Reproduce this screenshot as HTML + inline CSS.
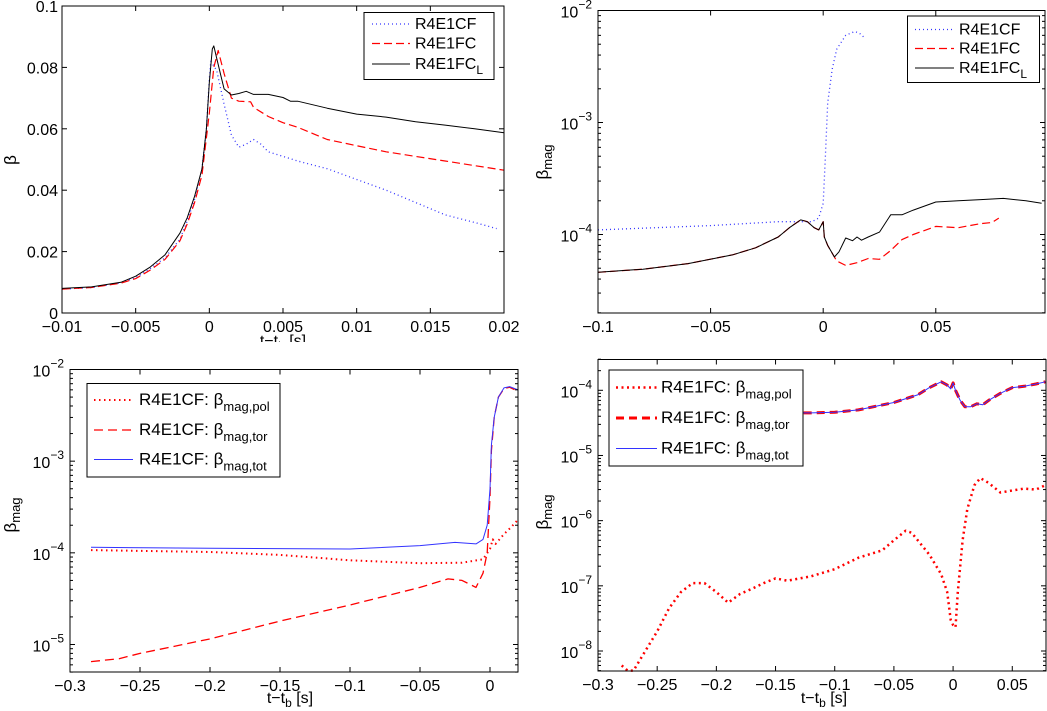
<!DOCTYPE html>
<html><head><meta charset="utf-8"><style>
html,body{margin:0;padding:0;background:#fff}
svg{display:block;font-family:"Liberation Sans",sans-serif}
</style></head><body>
<svg id="fig" width="1047" height="711" viewBox="0 0 1047 711" xmlns="http://www.w3.org/2000/svg"></svg>
<script>
// ---- Panel A (beta, linear) ----
const aX_CF=[-0.01,-0.008,-0.006,-0.005,-0.004,-0.003,-0.002,-0.0015,-0.001,-0.0005,-0.0002,0,0.0001,0.0005,0.001,0.0015,0.002,0.0025,0.003,0.0035,0.004,0.005,0.006,0.008,0.01,0.012,0.014,0.016,0.018,0.0195];
const aY_CF=[0.0078,0.0083,0.0098,0.0115,0.0145,0.018,0.024,0.03,0.037,0.047,0.06,0.076,0.082,0.079,0.068,0.058,0.054,0.055,0.0565,0.055,0.0525,0.051,0.0495,0.047,0.0435,0.040,0.036,0.032,0.0295,0.0275];
const aX_FC=[-0.01,-0.008,-0.006,-0.005,-0.004,-0.003,-0.002,-0.0015,-0.001,-0.0005,0,0.0003,0.0006,0.001,0.0015,0.002,0.0028,0.003,0.004,0.005,0.006,0.007,0.008,0.01,0.012,0.014,0.016,0.018,0.02];
const aY_FC=[0.0078,0.0083,0.0097,0.0112,0.014,0.0175,0.0235,0.029,0.036,0.045,0.065,0.08,0.0855,0.078,0.070,0.069,0.0688,0.067,0.064,0.062,0.0605,0.0585,0.0565,0.0545,0.0525,0.051,0.0495,0.048,0.0465];
const aX_FCL=[-0.01,-0.008,-0.006,-0.005,-0.004,-0.003,-0.002,-0.0015,-0.001,-0.0005,-0.0002,0,0.0002,0.0003,0.0005,0.0008,0.001,0.0015,0.002,0.0025,0.003,0.004,0.005,0.0055,0.006,0.008,0.01,0.012,0.014,0.016,0.018,0.02];
const aY_FCL=[0.008,0.0085,0.010,0.012,0.015,0.019,0.026,0.031,0.038,0.047,0.060,0.075,0.086,0.087,0.083,0.077,0.073,0.071,0.0715,0.0722,0.0712,0.0712,0.0702,0.069,0.069,0.0667,0.0648,0.0638,0.0623,0.0612,0.060,0.0587];
const aXTicks=[-0.01,-0.005,0,0.005,0.01,0.015,0.02];
const aXTickLabels=["\u22120.01","\u22120.005","0","0.005","0.01","0.015","0.02"];
const aYTicks=[0,0.02,0.04,0.06,0.08,0.1];
const aYTickLabels=["0","0.02","0.04","0.06","0.08","0.1"];
// ---- Panel B (beta_mag, log) ----
const bX_CF=[-0.1,-0.05,-0.02,-0.01,-0.005,-0.002,0,0.001,0.002,0.004,0.006,0.01,0.014,0.016,0.018];
const bY_CF=[1.1e-4,1.2e-4,1.3e-4,1.3e-4,1.3e-4,1.4e-4,1.9e-4,5e-4,1.5e-3,3e-3,4.5e-3,6e-3,6.5e-3,6.3e-3,5.8e-3];
const bX_FC=[-0.1,-0.08,-0.06,-0.04,-0.03,-0.02,-0.015,-0.01,-0.007,-0.004,-0.002,0,0.0005,0.002,0.005,0.006,0.01,0.015,0.02,0.025,0.03,0.035,0.04,0.05,0.06,0.065,0.07,0.075,0.078];
const bY_FC=[4.6e-5,4.9e-5,5.5e-5,6.6e-5,7.6e-5,9.5e-5,1.15e-4,1.35e-4,1.3e-4,1.15e-4,1.1e-4,1.3e-4,9.5e-5,8e-5,6.3e-5,5.8e-5,5.3e-5,5.6e-5,6.1e-5,6e-5,7.2e-5,9e-5,1.0e-4,1.18e-4,1.15e-4,1.2e-4,1.25e-4,1.28e-4,1.4e-4];
const bX_FCL=[-0.1,-0.08,-0.06,-0.04,-0.03,-0.02,-0.015,-0.01,-0.007,-0.004,-0.002,0,0.0005,0.002,0.005,0.007,0.01,0.013,0.015,0.017,0.02,0.025,0.03,0.035,0.04,0.05,0.06,0.07,0.08,0.09,0.097];
const bY_FCL=[4.6e-5,4.9e-5,5.5e-5,6.6e-5,7.6e-5,9.5e-5,1.15e-4,1.35e-4,1.3e-4,1.15e-4,1.1e-4,1.3e-4,9.5e-5,8e-5,6.3e-5,7e-5,9.3e-5,8.8e-5,9.5e-5,8.9e-5,9.5e-5,1.05e-4,1.5e-4,1.5e-4,1.65e-4,1.95e-4,2.0e-4,2.05e-4,2.1e-4,2.0e-4,1.9e-4];
const bXTicks=[-0.1,-0.05,0,0.05];
const bXTickLabels=["\u22120.1","\u22120.05","0","0.05"];
const bYExps=[-2,-3,-4];
// ---- Panel C ----
const cX_tot=[-0.285,-0.2,-0.1,-0.05,-0.025,-0.01,-0.005,-0.002,0,0.001,0.003,0.006,0.01,0.014,0.02];
const cY_tot=[1.15e-4,1.12e-4,1.1e-4,1.2e-4,1.3e-4,1.25e-4,1.4e-4,2e-4,5e-4,1.5e-3,3e-3,5e-3,6.3e-3,6.5e-3,6e-3];
const cX_tor=[-0.285,-0.265,-0.25,-0.2,-0.15,-0.1,-0.05,-0.03,-0.02,-0.01,-0.005,-0.002,0,0.001,0.003,0.006,0.01,0.014,0.02];
const cY_tor=[6.5e-6,7e-6,8e-6,1.15e-5,1.8e-5,2.7e-5,4.2e-5,5.2e-5,5e-5,4.2e-5,6e-5,1e-4,4e-4,1.3e-3,3e-3,5e-3,6.2e-3,6.4e-3,5.8e-3];
const cX_pol=[-0.285,-0.2,-0.15,-0.1,-0.05,-0.02,-0.005,0,0.002,0.004,0.01,0.015,0.02];
const cY_pol=[1.07e-4,1.02e-4,9.5e-5,8.3e-5,7.7e-5,7.8e-5,8.5e-5,1.1e-4,1.4e-4,1.25e-4,1.6e-4,1.9e-4,2.3e-4];
const cXTicks=[-0.3,-0.25,-0.2,-0.15,-0.1,-0.05,0];
const cXTickLabels=["\u22120.3","\u22120.25","\u22120.2","\u22120.15","\u22120.1","\u22120.05","0"];
const cYExps=[-2,-3,-4,-5];
// ---- Panel D ----
const dX_pol=[-0.28,-0.275,-0.27,-0.26,-0.25,-0.24,-0.23,-0.22,-0.21,-0.2,-0.19,-0.18,-0.17,-0.16,-0.15,-0.14,-0.12,-0.1,-0.08,-0.06,-0.05,-0.04,-0.035,-0.02,-0.01,-0.005,-0.002,0,0.002,0.004,0.008,0.012,0.018,0.023,0.03,0.04,0.05,0.06,0.07,0.078];
const dY_pol=[6e-9,5e-9,5e-9,1e-8,2e-8,4.5e-8,8e-8,1.1e-7,1.1e-7,8e-8,5.5e-8,7.5e-8,9e-8,1.1e-7,1.3e-7,1.2e-7,1.4e-7,1.8e-7,2.7e-7,3.5e-7,5e-7,7e-7,6.5e-7,3e-7,1.5e-7,8e-8,3e-8,2.5e-8,2.3e-8,8e-8,5e-7,1.5e-6,3.5e-6,4.5e-6,3.8e-6,2.7e-6,2.9e-6,3.1e-6,3.0e-6,3.5e-6];
const dX_tot=[-0.28,-0.12,-0.1,-0.08,-0.05,-0.03,-0.02,-0.01,-0.005,-0.002,0,0.002,0.006,0.01,0.015,0.02,0.025,0.03,0.04,0.05,0.06,0.07,0.078];
const dY_tot=[4.5e-5,4.5e-5,4.6e-5,5e-5,6.5e-5,8.5e-5,1.1e-4,1.35e-4,1.2e-4,1.05e-4,1.3e-4,1e-4,7e-5,5.6e-5,5.6e-5,6.2e-5,6e-5,7e-5,9e-5,1.1e-4,1.15e-4,1.25e-4,1.35e-4];
const dXTicks=[-0.3,-0.25,-0.2,-0.15,-0.1,-0.05,0,0.05];
const dXTickLabels=["\u22120.3","\u22120.25","\u22120.2","\u22120.15","\u22120.1","\u22120.05","0","0.05"];
const dYExps=[-4,-5,-6,-7,-8];

const NS="http://www.w3.org/2000/svg";
const fig=document.getElementById('fig');
function mk(tag,attrs,parent){const e=document.createElementNS(NS,tag);for(const k in attrs)e.setAttribute(k,attrs[k]);(parent||fig).appendChild(e);return e;}
function lin(d0,d1,p0,p1){return v=>p0+(v-d0)/(d1-d0)*(p1-p0);}
function logs(e0,e1,p0,p1){return v=>p0+(Math.log10(v)-e0)/(e1-e0)*(p1-p0);}
function pathD(xs,ys,sx,sy){return xs.map((x,i)=>(i?'L':'M')+sx(x).toFixed(1)+' '+sy(ys[i]).toFixed(1)).join(' ');}
function frame(g,L,T,R,B){
  const r=mk('rect',{x:L,y:T,width:R-L,height:B-T,fill:'none',stroke:'#000','stroke-width':1},g);
  
  
}
function xticks(g,ticks,labels,sx,T,B){
  ticks.forEach((t,i)=>{const x=sx(t);
    mk('line',{x1:x,x2:x,y1:B,y2:B-5,stroke:'#000'},g);mk('line',{x1:x,x2:x,y1:T,y2:T+5,stroke:'#000'},g);
    const tx=mk('text',{x:x,y:B+19,'font-size':16,'text-anchor':'middle'},g);tx.textContent=labels[i];
    
    });
}
function yticksLin(g,ticks,labels,sy,L,R){
  ticks.forEach((t,i)=>{const y=sy(t);
    mk('line',{x1:L,x2:L+5,y1:y,y2:y,stroke:'#000'},g);mk('line',{x1:R,x2:R-5,y1:y,y2:y,stroke:'#000'},g);
    const tx=mk('text',{x:L-4,y:y+6,'font-size':16,'text-anchor':'end'},g);tx.textContent=labels[i];
    
    });
}
function yticksLog(g,exps,sy,L,R,T,B){
  const emin=Math.min(...exps)-1,emax=Math.max(...exps)+1;
  for(let e=emin;e<=emax;e++){for(let m=1;m<10;m++){const v=m*Math.pow(10,e);const y=sy(v);if(y<T-0.5||y>B+0.5)continue;
    const len=m===1?5:3;mk('line',{x1:L,x2:L+len,y1:y,y2:y,stroke:'#000'},g);mk('line',{x1:R,x2:R-len,y1:y,y2:y,stroke:'#000'},g);}}
  exps.forEach(e=>{const y=sy(Math.pow(10,e));
    const tx=mk('text',{x:L-6,y:y+7,'font-size':16,'text-anchor':'end'},g);
    
    
    tx.innerHTML='10<tspan dy="-9" font-size="12">\u2212'+Math.abs(e)+'</tspan>';});
}
function series(g,xs,ys,sx,sy,color,dash,w,name){
  const p=mk('path',{d:pathD(xs,ys,sx,sy),fill:'none',stroke:color,'stroke-width':w,'stroke-dasharray':dash,'stroke-linejoin':'round'},g);
  
  
}
function legend(g,x0,y0,x1,y1,fs,items){
  const r=mk('rect',{x:x0,y:y0,width:x1-x0,height:y1-y0,fill:'#fff',stroke:'#000','stroke-width':1},g);
  
  
  items.forEach(it=>{
    mk('line',{x1:it.lx0,x2:it.lx1,y1:it.y,y2:it.y,stroke:it.c,'stroke-width':it.w,'stroke-dasharray':it.d},g);
    const t=mk('text',{x:it.tx,y:it.y+5,'font-size':fs},g);t.innerHTML=it.html;
    
    
  });
}
function ylabel(g,x,y,sub){const t=mk('text',{x:0,y:0,'font-size':17,transform:'translate('+x+','+y+') rotate(-90)','text-anchor':'middle'},g);
  t.innerHTML='\u03B2'+(sub?'<tspan dy="4" font-size="13">mag</tspan>':'');
  
  }
function xlabel(g,x,y){const t=mk('text',{x:x,y:y,'font-size':16,'text-anchor':'middle'},g);
  t.innerHTML='t\u2212t<tspan dy="4" font-size="12">b</tspan><tspan dy="-4"> [s]</tspan>';
  
  }
function grp(name){const g=mk('g',{});return g;}

// Panel A
{const g=grp('panel-beta');const L=62,R=504,T=6,B=313;
 const sx=lin(-0.01,0.02,L,R),sy=lin(0,0.1,B,T);
 xlabel(g,283,346);
 mk('rect',{x:0,y:342,width:530,height:20,fill:'#fff'},g);
 series(g,aX_CF,aY_CF,sx,sy,'#3333ff','1 3',1.3,'line-r4e1cf');
 series(g,aX_FC,aY_FC,sx,sy,'#ff0000','8 4',1.2,'line-r4e1fc');
 series(g,aX_FCL,aY_FCL,sx,sy,'#000','',1,'line-r4e1fcl');
 frame(g,L,T,R,B);xticks(g,aXTicks,aXTickLabels,sx,T,B);yticksLin(g,aYTicks,aYTickLabels,sy,L,R);
 ylabel(g,16,160,false);
 legend(g,364,12.5,494,79.5,16,[
  {lx0:372,lx1:410,y:24,c:'#3333ff',d:'1 3',w:1.3,tx:415,html:'R4E1CF'},
  {lx0:372,lx1:410,y:43.5,c:'#f00',d:'8 4',w:1.2,tx:415,html:'R4E1FC'},
  {lx0:372,lx1:410,y:64,c:'#000',d:'',w:1,tx:415,html:'R4E1FC<tspan dy="5" font-size="12">L</tspan>'}]);
}
// Panel B
{const g=grp('panel-beta-mag-models');const L=598,R=1045,T=10.5,B=313;
 const sx=lin(-0.1,0.0985,L,R),sy=logs(-2,-4,10.5,234.5);
 series(g,bX_CF,bY_CF,sx,sy,'#3333ff','1 3',1.3,'line-r4e1cf');
 series(g,bX_FC,bY_FC,sx,sy,'#ff0000','8 4',1.2,'line-r4e1fc');
 series(g,bX_FCL,bY_FCL,sx,sy,'#000','',1,'line-r4e1fcl');
 frame(g,L,T,R,B);xticks(g,bXTicks,bXTickLabels,sx,T,B);yticksLog(g,bYExps,sy,L,R,T,B);
 ylabel(g,548,162,true);
 legend(g,907.5,16,1039.5,82.5,16,[
  {lx0:915,lx1:954,y:29.5,c:'#3333ff',d:'1 3',w:1.3,tx:959,html:'R4E1CF'},
  {lx0:915,lx1:954,y:48.5,c:'#f00',d:'8 4',w:1.2,tx:959,html:'R4E1FC'},
  {lx0:915,lx1:954,y:68,c:'#000',d:'',w:1,tx:959,html:'R4E1FC<tspan dy="5" font-size="12">L</tspan>'}]);
}
// Panel C
{const g=grp('panel-r4e1cf-components');const L=70,R=518,T=369.5,B=672;
 const sx=lin(-0.3,0.02,L,R),sy=logs(-2,-5,369.5,644.5);
 series(g,cX_pol,cY_pol,sx,sy,'#ff0000','1.5 3.5',2,'line-beta-mag-pol');
 series(g,cX_tor,cY_tor,sx,sy,'#ff0000','9 5',1.3,'line-beta-mag-tor');
 series(g,cX_tot,cY_tot,sx,sy,'#3333ff','',1,'line-beta-mag-tot');
 frame(g,L,T,R,B);xticks(g,cXTicks,cXTickLabels,sx,T,B);yticksLog(g,cYExps,sy,L,R,T,B);
 ylabel(g,16,515,true);xlabel(g,290,703);
 legend(g,87,383.5,280,477,17,[
  {lx0:94,lx1:133,y:400,c:'#f00',d:'1.5 3.5',w:2,tx:139,html:'R4E1CF: \u03B2<tspan dy="6" font-size="13">mag,pol</tspan>'},
  {lx0:94,lx1:133,y:430,c:'#f00',d:'9 5',w:1.3,tx:139,html:'R4E1CF: \u03B2<tspan dy="6" font-size="13">mag,tor</tspan>'},
  {lx0:94,lx1:133,y:459.5,c:'#3333ff',d:'',w:1,tx:139,html:'R4E1CF: \u03B2<tspan dy="6" font-size="13">mag,tot</tspan>'}]);
}
// Panel D
{const g=grp('panel-r4e1fc-components');const L=598,R=1046,T=359.5,B=671;
 const sx=lin(-0.3,0.0785,L,R),sy=logs(-4,-8,390.3,651);
 series(g,dX_pol,dY_pol,sx,sy,'#ff0000','2 3.5',2.5,'line-beta-mag-pol');
 series(g,dX_tot,dY_tot,sx,sy,'#ff0000','8 5',3,'line-beta-mag-tor');
 series(g,dX_tot,dY_tot,sx,sy,'#3333ff','',1,'line-beta-mag-tot');
 frame(g,L,T,R,B);xticks(g,dXTicks,dXTickLabels,sx,T,B);yticksLog(g,dYExps,sy,L,R,T,B);
 ylabel(g,548,512,true);xlabel(g,824,703);
 legend(g,609,370,803,466,17,[
  {lx0:616,lx1:657,y:387.5,c:'#f00',d:'2 3.5',w:2.5,tx:661,html:'R4E1FC: \u03B2<tspan dy="6" font-size="13">mag,pol</tspan>'},
  {lx0:616,lx1:657,y:418,c:'#f00',d:'8 5',w:3,tx:661,html:'R4E1FC: \u03B2<tspan dy="6" font-size="13">mag,tor</tspan>'},
  {lx0:616,lx1:657,y:448.5,c:'#3333ff',d:'',w:1,tx:661,html:'R4E1FC: \u03B2<tspan dy="6" font-size="13">mag,tot</tspan>'}]);
}
</script>
</body></html>
